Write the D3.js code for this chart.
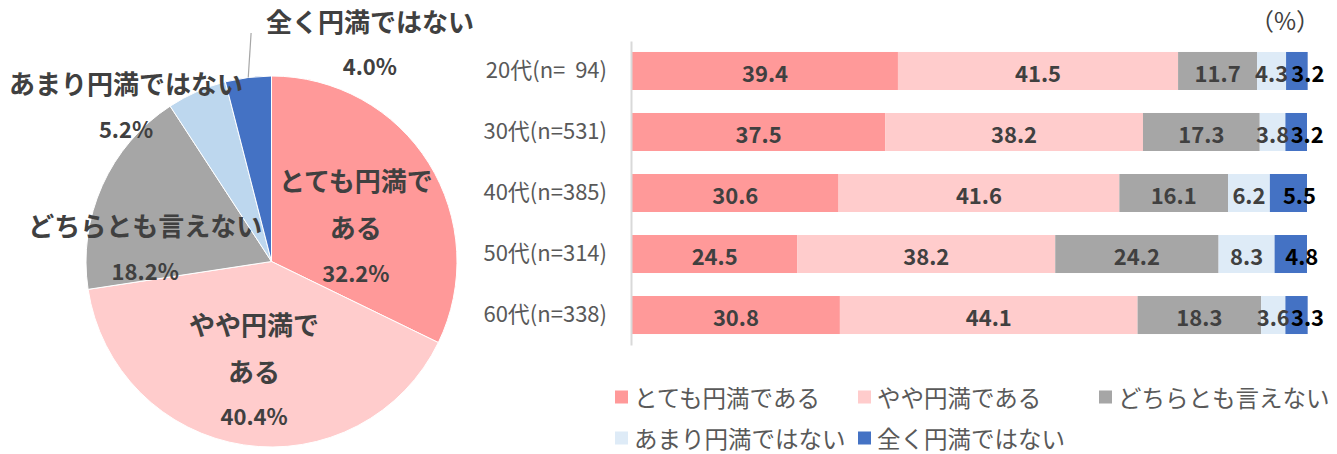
<!DOCTYPE html>
<html><head><meta charset="utf-8">
<script src="https://cdn.jsdelivr.net/npm/d3@7"></script>
<style>
html,body{margin:0;padding:0;background:#fff;}
svg{display:block;font-family:"Noto Sans CJK JP","Noto Sans",sans-serif;}
</style></head>
<body><svg id="c" width="1337" height="454"></svg>
<script>
// ---------- data ----------
const series = ["とても円満である","やや円満である","どちらとも言えない","あまり円満ではない","全く円満ではない"];
const pieValues = [32.2, 40.4, 18.2, 5.2, 4.0];
const pieNames = [["とても円満で","ある"],["やや円満で","ある"],["どちらとも言えない"],["あまり円満ではない"],["全く円満ではない"]];
const categories = ["20代(n=  94)","30代(n=531)","40代(n=385)","50代(n=314)","60代(n=338)"];
const s1 = [39.4, 37.5, 30.6, 24.5, 30.8];
const s2 = [41.5, 38.2, 41.6, 38.2, 44.1];
const s3 = [11.7, 17.3, 16.1, 24.2, 18.3];
const s4 = [4.3, 3.8, 6.2, 8.3, 3.6];
const s5 = [3.2, 3.2, 5.5, 4.8, 3.3];
const unitLabel = "（%）";

// ---------- styles / layout ----------
const barColors = ["#FF9999","#FFCCCC","#A6A6A6","#DEEBF7","#4472C4"];
const pieColors = ["#FF9999","#FFCCCC","#A6A6A6","#BDD7EE","#4472C4"];
const svg = d3.select("#c");

// ---------- pie ----------
const cx = 271.5, cy = 261.5, R = 185.5;
const pieG = svg.append("g").attr("transform", `translate(${cx},${cy})`);
const pie = d3.pie().sort(null).value(d => d)(pieValues);
const arc = d3.arc().innerRadius(0).outerRadius(R);
pieG.selectAll("path").data(pie).join("path")
  .attr("d", arc).attr("fill", (d,i) => pieColors[i])
  .attr("stroke", "#fff").attr("stroke-width", 1);

// label layout: [angle (deg, clockwise from top), radius factor]
const labelLayout = [[67, 0.494], [189.2, 0.588], [276.5, 0.685], [317, 1.15], [24.2, 1.294]];
const polar = (a, r) => [Math.sin(a*Math.PI/180)*r*R, -Math.cos(a*Math.PI/180)*r*R];
pie.forEach((d, i) => {
  const [lx, ly] = polar(labelLayout[i][0], labelLayout[i][1]);
  const lines = pieNames[i].map(t => ({t, big:true}));
  lines.push({t: pieValues[i].toFixed(1) + "%", big:false});
  const offs = []; let y = 0;
  lines.forEach((l, k) => { offs.push(y); y += (k < lines.length - 2) ? 47 : 45; });
  const mid = offs[offs.length-1] / 2;
  lines.forEach((l, k) => {
    pieG.append("text").attr("x", lx).attr("y", ly + offs[k] - mid)
      .attr("text-anchor", "middle").attr("dominant-baseline", "central")
      .attr("font-size", l.big ? 26 : 22).attr("font-weight", "bold")
      .attr("fill", "#404040").text(l.t);
  });
});
// leader line for the smallest slice
{
  const d = pie[4];
  const a = (d.startAngle + d.endAngle) / 2 * 180 / Math.PI;
  const [x1, y1] = polar(a, 1.0);
  const [x2, y2] = polar(354.9, 1.237);
  pieG.append("line").attr("x1", x1).attr("y1", y1).attr("x2", x2).attr("y2", y2)
    .attr("stroke", "#A6A6A6").attr("stroke-width", 1.2);
}

// ---------- stacked bars ----------
const allSeries = [s1, s2, s3, s4, s5];
const rows = categories.map((c, i) => {
  const o = {cat: c};
  series.forEach((s, k) => o[s] = allSeries[k][i]);
  return o;
});
const stacked = d3.stack().keys(series)(rows);
const x = d3.scaleLinear().domain([0, 100]).range([632, 1307]);
const y = d3.scaleBand().domain(categories).range([41, 345]).paddingInner(0.377).paddingOuter(0.18);

const barG = svg.append("g");
stacked.forEach((layer, k) => {
  barG.append("g").selectAll("rect").data(layer).join("rect")
    .attr("x", d => x(d[0])).attr("width", d => x(d[1]) - x(d[0]))
    .attr("y", d => y(d.data.cat)).attr("height", y.bandwidth())
    .attr("fill", barColors[k]);
});
stacked.forEach((layer, k) => {
  barG.append("g").selectAll("text").data(layer).join("text")
    .attr("x", d => (x(d[0]) + x(d[1])) / 2 + (k === 4 ? 11 : 0))
    .attr("y", d => y(d.data.cat) + y.bandwidth() / 2 + 1)
    .attr("text-anchor", "middle").attr("dominant-baseline", "central")
    .attr("font-size", 22).attr("font-weight", "bold")
    .attr("fill", k === 4 ? "#000" : "#404040")
    .text(d => (d[1] - d[0]).toFixed(1));
});

// axis
const yAxis = svg.append("g").attr("transform", "translate(631,0)")
  .call(d3.axisLeft(y).tickSize(0).tickPadding(24));
yAxis.select(".domain").attr("stroke", "#D9D9D9").attr("stroke-width", 2);
yAxis.selectAll("text").attr("font-size", 22).attr("fill", "#595959")
  .attr("font-family", '"Noto Sans CJK JP",sans-serif').style("white-space", "pre");

svg.append("text").attr("x", 1285).attr("y", 19).attr("text-anchor", "middle")
  .attr("dominant-baseline", "central").attr("font-size", 24).attr("fill", "#404040").text(unitLabel);

// ---------- legend ----------
const legendPos = [[615, 397], [858, 397], [1099, 397], [615, 438], [858, 438]];
series.forEach((s, k) => {
  const [lx, ly] = legendPos[k];
  svg.append("rect").attr("x", lx).attr("y", ly - 6.5).attr("width", 13).attr("height", 13).attr("fill", barColors[k]);
  svg.append("text").attr("x", lx + 19).attr("y", ly).attr("dominant-baseline", "central")
    .attr("font-size", 23.5).attr("fill", "#595959").text(s);
});
</script></body></html>
